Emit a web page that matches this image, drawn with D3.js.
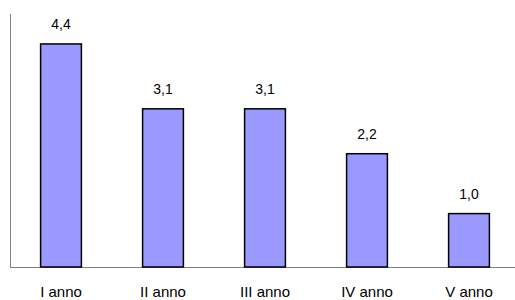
<!DOCTYPE html>
<html>
<head>
<meta charset="utf-8">
<script src="https://cdn.jsdelivr.net/npm/d3@7"></script>
<style>
  body { margin: 0; background: #fff; }
  text { font-family: "Liberation Sans", Arial, sans-serif; }
</style>
</head>
<body>
<svg id="chart" width="515" height="300"></svg>
<script>
var categories = ["I anno", "II anno", "III anno", "IV anno", "V anno"];
var values = [4.4, 3.1, 3.1, 2.2, 1.0];
var valueLabels = ["4,4", "3,1", "3,1", "2,2", "1,0"];

var svg = d3.select("#chart");
var baseY = 267, topY = 14, leftX = 10;

var x = d3.scaleBand().domain(categories).range([leftX, 520]).paddingInner(0.6).paddingOuter(0.3);
var y = d3.scaleLinear().domain([-0.07, 5]).range([baseY, topY]);

// axis lines
svg.append("line")
  .attr("x1", leftX + 0.5).attr("x2", leftX + 0.5)
  .attr("y1", topY).attr("y2", baseY)
  .attr("stroke", "#808080").attr("stroke-width", 1);
svg.append("line")
  .attr("x1", leftX).attr("x2", 515)
  .attr("y1", baseY + 0.5).attr("y2", baseY + 0.5)
  .attr("stroke", "#808080").attr("stroke-width", 1);

var data = categories.map(function (c, i) { return {cat: c, v: values[i], label: valueLabels[i]}; });

svg.selectAll("rect.bar")
  .data(data)
  .enter().append("rect")
  .attr("class", "bar")
  .attr("x", function (d) { return x(d.cat); })
  .attr("width", x.bandwidth())
  .attr("y", function (d) { return y(d.v); })
  .attr("height", function (d) { return baseY - y(d.v); })
  .attr("fill", "#9999ff")
  .attr("stroke", "#000")
  .attr("stroke-width", 1.5);

svg.selectAll("text.val")
  .data(data)
  .enter().append("text")
  .attr("class", "val")
  .attr("x", function (d) { return x(d.cat) + x.bandwidth() / 2; })
  .attr("y", function (d) { return y(d.v) - 15; })
  .attr("text-anchor", "middle")
  .attr("font-size", 14)
  .text(function (d) { return d.label; });

svg.selectAll("text.cat")
  .data(data)
  .enter().append("text")
  .attr("class", "cat")
  .attr("x", function (d) { return x(d.cat) + x.bandwidth() / 2; })
  .attr("y", 297)
  .attr("text-anchor", "middle")
  .attr("font-size", 15)
  .text(function (d) { return d.cat; });
</script>
</body>
</html>
